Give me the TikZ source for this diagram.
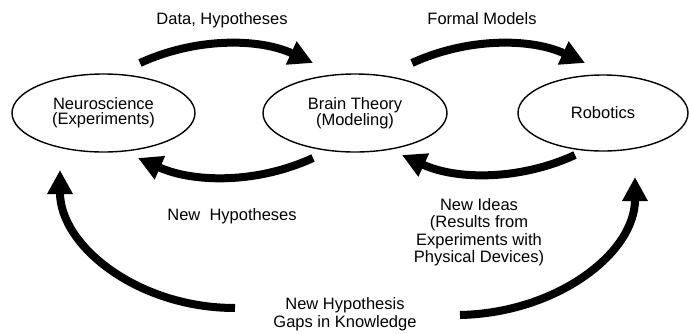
\documentclass[tikz,border=0pt]{standalone}
\usepackage{fontspec}
\setmainfont{Liberation Sans}
\usetikzlibrary{arrows.meta,shapes.geometric}
\begin{document}
\begin{tikzpicture}[x=1pt,y=-1pt,
  bubble/.style={draw, ellipse, line width=1.4pt, inner sep=0pt, align=center,
    font=\fontsize{16.5}{15}\selectfont},
  lbl/.style={align=center, inner sep=0pt, font=\fontsize{16.5}{17.5}\selectfont},
  flow/.style={line width=8pt, -{Triangle[length=24pt,width=24pt]}}]
\useasboundingbox (0,0) rectangle (689,333);

% ellipses
\node[bubble, minimum width=183pt, minimum height=78pt] (neuro) at (103.5,113) {Neuroscience\\(Experiments)};
\node[bubble, minimum width=184pt, minimum height=78pt] (brain) at (355,113) {Brain Theory\\(Modeling)};
\node[bubble, minimum width=170pt, minimum height=76pt] (robot) at (603,113) {Robotics};

% labels
\node[lbl] (ldata) at (222,20) {Data, Hypotheses};
\node[lbl] (lformal) at (482,18.5) {Formal Models};
\node[lbl] (lnewhyp) at (232,216) {New\ \ Hypotheses};
\node[lbl] (lideas) at (479,232) {New Ideas\\(Results from\\Experiments with\\Physical Devices)};
\node[lbl] (lgaps) at (345,314) {New Hypothesis\\Gaps in Knowledge};

% arrow end points
\coordinate (aS) at (140,63);  \coordinate (aE) at (313,63);
\coordinate (bS) at (412,63);  \coordinate (bE) at (585,63);
\coordinate (cS) at (313,158); \coordinate (cE) at (138,158);
\coordinate (dS) at (575,155); \coordinate (dE) at (402,155);
\coordinate (eS) at (235,308); \coordinate (eE) at (60,170);
\coordinate (fS) at (460,315); \coordinate (fE) at (635,177);

% arrows
\draw[flow] (aS) .. controls (194.8,37.7) and (258.2,37.7) .. (aE);
\draw[flow] (bS) .. controls (466.8,37.7) and (530.2,37.7) .. (bE);
\draw[flow] (cS) .. controls (258.2,183.3) and (194.8,183.3) .. (cE);
\draw[flow] (dS) .. controls (520.2,180.3) and (456.8,180.3) .. (dE);
\draw[flow] (eS) .. controls (138,308) and (60,246) .. (eE);
\draw[flow] (fS) .. controls (557,313) and (635,253) .. (fE);
\end{tikzpicture}
\end{document}
